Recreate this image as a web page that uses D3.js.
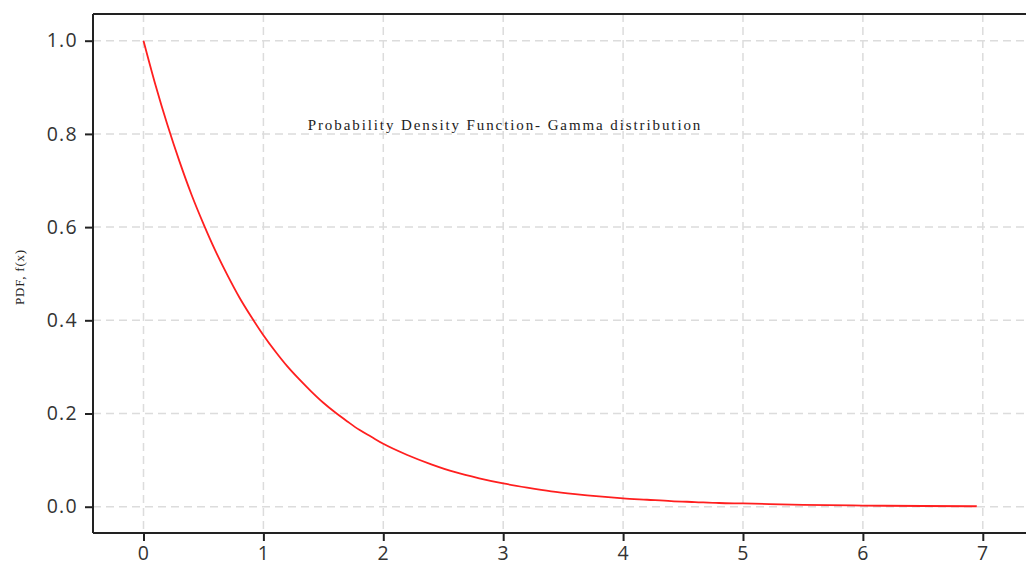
<!DOCTYPE html>
<html><head><meta charset="utf-8">
<script src="https://cdn.jsdelivr.net/npm/d3@7"></script>
<style>
body{margin:0;background:#fff;}
svg{display:block;}
</style></head>
<body>
<svg id="chart" width="1026" height="568"></svg>
<script>
const xValues = [0.0,0.1,0.2,0.3,0.4,0.5,0.6,0.7,0.8,0.9,1.0,1.1,1.2,1.3,1.4,1.5,1.6,1.7,1.8,1.9,2.0,2.2,2.4,2.6,2.8,3.0,3.2,3.4,3.6,3.8,4.0,4.2,4.4,4.6,4.8,5.0,5.5,6.0,6.5,6.95];
const pdfValues = [1.0,0.905,0.819,0.741,0.670,0.607,0.549,0.497,0.449,0.407,0.368,0.333,0.301,0.273,0.247,0.223,0.202,0.183,0.165,0.150,0.135,0.111,0.091,0.074,0.061,0.050,0.041,0.033,0.027,0.022,0.018,0.015,0.012,0.010,0.008,0.007,0.004,0.0025,0.0015,0.001];
const xTicks = [0,1,2,3,4,5,6,7];
const yTicks = [0.0,0.2,0.4,0.6,0.8,1.0];
const titleText = "Probability Density Function- Gamma distribution";
const yLabel = "PDF, f(x)";

const svg = d3.select("#chart");
const L = 93, R = 1026, T = 14, B = 533;
const x = d3.scaleLinear().domain([-0.4212, 7.3604]).range([L, R]);
const y = d3.scaleLinear().domain([-0.0564, 1.0573]).range([B, T]);

// grid
const grid = svg.append("g");
grid.selectAll("line.gx").data(xTicks).enter().append("line")
  .attr("x1", d => x(d)).attr("x2", d => x(d)).attr("y1", T).attr("y2", B)
  .attr("stroke", "#dcdcdc").attr("stroke-width", 1.5).attr("stroke-dasharray", "8,5");
grid.selectAll("line.gy").data(yTicks).enter().append("line")
  .attr("x1", L).attr("x2", R).attr("y1", d => y(d)).attr("y2", d => y(d))
  .attr("stroke", "#dcdcdc").attr("stroke-width", 1.5).attr("stroke-dasharray", "8,5");

// line
const pts = xValues.map((v, i) => [v, pdfValues[i]]);
svg.append("path").datum(pts)
  .attr("fill", "none").attr("stroke", "#ff1f1f").attr("stroke-width", 1.8)
  .attr("d", d3.line().x(d => x(d[0])).y(d => y(d[1])).curve(d3.curveMonotoneX));

// axes
const xAxis = svg.append("g").attr("transform", `translate(0,${B})`)
  .call(d3.axisBottom(x).tickValues(xTicks).tickFormat(d3.format("d")).tickSize(8).tickPadding(5));
const yAxis = svg.append("g").attr("transform", `translate(${L},0)`)
  .call(d3.axisLeft(y).tickValues(yTicks).tickFormat(d3.format(".1f")).tickSize(8).tickPadding(7));
[xAxis, yAxis].forEach(a => {
  a.select(".domain").attr("stroke", "#222").attr("stroke-width", 2);
  a.selectAll(".tick line").attr("stroke", "#222").attr("stroke-width", 2);
  a.selectAll(".tick text").attr("fill", "#333").style("font-family", "'Open Sans', sans-serif").style("font-size", "19.5px").style("letter-spacing", "1.3px");
});
xAxis.select(".domain").attr("d", `M${L},0H${R}`);
yAxis.select(".domain").attr("d", `M0,${B}V${T}`);
// top border
svg.append("line").attr("x1", L).attr("x2", R).attr("y1", T).attr("y2", T)
  .attr("stroke", "#222").attr("stroke-width", 2);

// title
svg.append("text").attr("x", 505).attr("y", 130).attr("text-anchor", "middle")
  .style("font-family", "'Liberation Serif', 'Times New Roman', serif").style("font-size", "15px")
  .style("letter-spacing", "1.9px").attr("fill", "#222").text(titleText);

// y label
svg.append("text").attr("transform", "translate(24,277) rotate(-90)").attr("text-anchor", "middle")
  .style("font-family", "'Liberation Serif', 'Times New Roman', serif").style("font-size", "13px")
  .style("letter-spacing", "0.8px").attr("fill", "#222").text(yLabel);
</script>
</body></html>
